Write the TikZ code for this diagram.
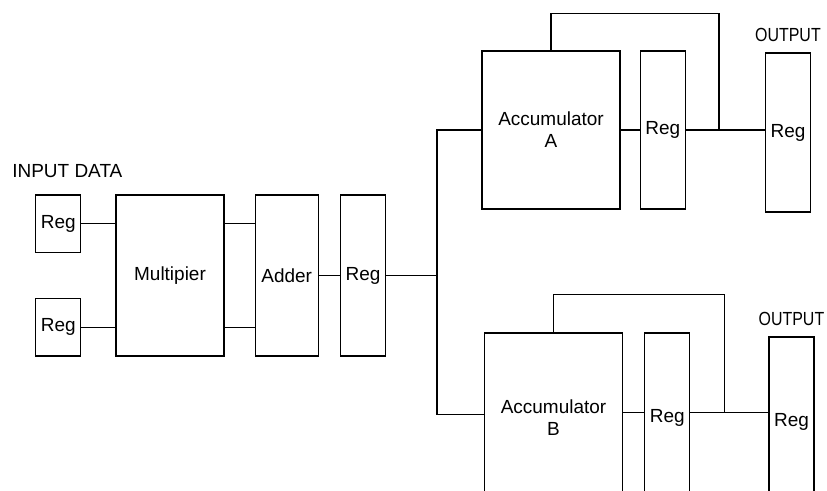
\documentclass[tikz,border=0pt]{standalone}
\usepackage{fontspec}
\setmainfont{Liberation Sans}
\usepackage{graphicx}
\usetikzlibrary{positioning,calc}

\begin{document}
\begin{tikzpicture}[
  box/.style={draw, line width=0.7pt, align=center, inner sep=1pt, font=\fontsize{10.8}{12.5}\selectfont},
  inreg/.style={box, minimum width=0.9cm, minimum height=1.15cm},
  reg/.style={box, minimum width=0.9cm, minimum height=3.2cm},
  acc/.style={box, minimum width=2.76cm, minimum height=3.16cm},
  note/.style={inner sep=0pt, font=\fontsize{10.8}{12.5}\selectfont},
  wire/.style={line width=0.7pt}
]
\useasboundingbox (0,0) rectangle (16.54,9.82);
\clip (0,0) rectangle (16.54,9.82);

% front end: multiplier, adder, pipeline register
\node[box, minimum width=2.16cm, minimum height=3.22cm] (mult) at (3.40,4.31) {Multipier};
\node[box, minimum width=1.26cm, minimum height=3.22cm, right=0.6cm of mult] (adder) {Adder};
\node[reg, minimum height=3.22cm, right=0.42cm of adder] (midreg) {Reg};

\node[inreg, below left=0cm and 0.68cm of mult.north west] (inregA) {Reg};
\node[inreg, above left=0cm and 0.68cm of mult.south west] (inregB) {Reg};
\node[note, anchor=west] (input) at (0.24,6.40) {INPUT DATA};

\draw[wire] (inregA) -- (inregA -| mult.west);
\draw[wire] (inregB) -- (inregB -| mult.west);
\draw[wire] (inregA -| mult.east) -- (inregA -| adder.west);
\draw[wire] (inregB -| mult.east) -- (inregB -| adder.west);
\draw[wire] (adder) -- (midreg);

% split to the two accumulators
\coordinate[right=1.02cm of midreg] (bus);

\node[acc] (accA) at (11.02,7.22) {Accumulator\\A};
\node[reg, minimum height=3.16cm, right=0.38cm of accA] (regA) {Reg};
\node[reg, minimum height=3.18cm, right=1.58cm of regA, yshift=-0.05cm] (outA) {Reg};
\node[note, above=0.2cm of outA] (outlblA) {\scalebox{0.84}[1]{OUTPUT}};

% lower channel runs off the bottom edge
\node[acc, minimum height=3.4cm] (accB) at (11.07,1.46) {Accumulator\\B};
\node[reg, minimum height=3.4cm, right=0.42cm of accB] (regB) {Reg};
\node[reg, minimum height=3.4cm, right=1.56cm of regB, yshift=-0.08cm] (outB) {Reg};
\node[note, above=0.2cm of outB] (outlblB) {\scalebox{0.84}[1]{OUTPUT}};
\coordinate (rowB) at ($(accB.north)+(0,-1.6)$);

\draw[wire] (midreg) -- (bus);
\draw[wire] (accA.west) -| (bus) |- ($(rowB -| accB.west)+(0,-0.04)$);

\draw[wire] (accA) -- (regA);
\draw[wire] (regA.east) -- (regA.east -| outA.west);
\coordinate (tapA) at ($(regA.east)!0.42!(regA.east -| outA.west)$);
\draw[wire] (accA.north) -- ++(0,0.74) -| (tapA);

\draw[wire] (rowB -| accB.east) -- (rowB -| regB.west);
\draw[wire] (rowB -| regB.east) -- (rowB -| outB.west);
\coordinate (tapB) at ($(rowB -| regB.east)!0.44!(rowB -| outB.west)$);
\draw[wire] (accB.north) -- ++(0,0.76) -| (tapB);

\end{tikzpicture}
\end{document}
